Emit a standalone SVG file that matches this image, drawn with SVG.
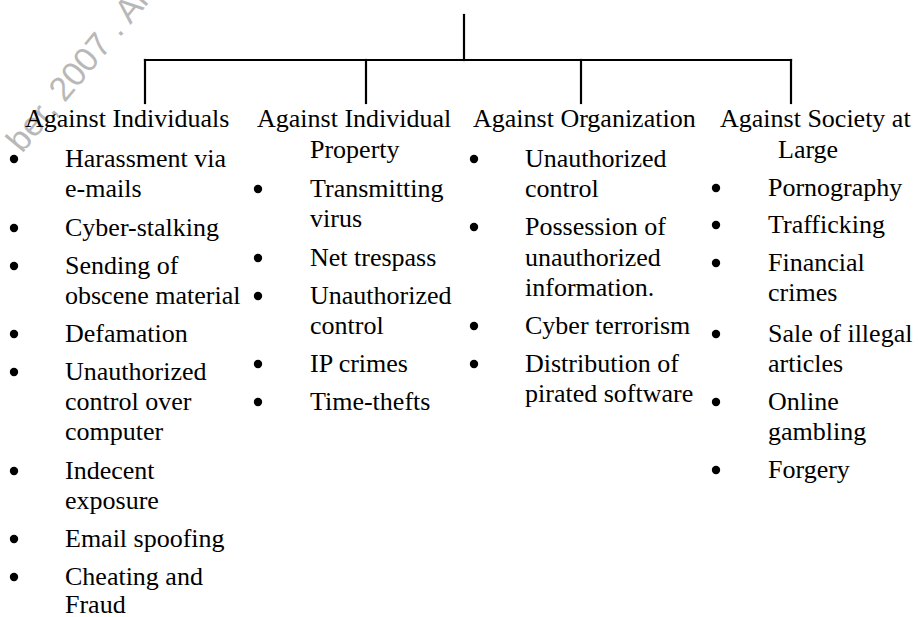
<svg xmlns="http://www.w3.org/2000/svg" width="918" height="617" viewBox="0 0 918 617">
  <style>
    .t { font-family: "Liberation Serif", "Times New Roman", serif; font-size: 26px; fill: #000; }
    .b { fill: #000; }
    .wire { stroke: #000; stroke-width: 2.2; fill: none; stroke-linecap: square; }
    .wm { font-family: "Liberation Sans", Arial, sans-serif; font-size: 34px; fill: #b8b8b8; }
  </style>
  <rect width="918" height="617" fill="#fff"/>

  <!-- faint rotated watermark -->
  <text class="wm" transform="translate(22,154) rotate(-50)">ber, 2007 . All</text>

  <!-- tree connectors -->
  <g id="connectors">
    <path class="wire" d="M464 15 V60"/>
    <path class="wire" d="M145 60 H791"/>
    <path class="wire" d="M145 60 V103"/>
    <path class="wire" d="M366 60 V103"/>
    <path class="wire" d="M581 60 V103"/>
    <path class="wire" d="M791 60 V103"/>
  </g>

  <!-- column 1 -->
  <g id="individuals">
    <text class="t" x="25" y="127">Against Individuals</text>
    <circle class="b" cx="14" cy="159" r="4.2"/>
    <text class="t" x="65" y="167">Harassment via</text>
    <text class="t" x="65" y="197">e-mails</text>
    <circle class="b" cx="14" cy="228" r="4.2"/>
    <text class="t" x="65" y="236">Cyber-stalking</text>
    <circle class="b" cx="14" cy="266" r="4.2"/>
    <text class="t" x="65" y="274">Sending of</text>
    <text class="t" x="65" y="304">obscene material</text>
    <circle class="b" cx="14" cy="334" r="4.2"/>
    <text class="t" x="65" y="342">Defamation</text>
    <circle class="b" cx="14" cy="372" r="4.2"/>
    <text class="t" x="65" y="380">Unauthorized</text>
    <text class="t" x="65" y="410">control over</text>
    <text class="t" x="65" y="440">computer</text>
    <circle class="b" cx="14" cy="471" r="4.2"/>
    <text class="t" x="65" y="479">Indecent</text>
    <text class="t" x="65" y="509">exposure</text>
    <circle class="b" cx="14" cy="539" r="4.2"/>
    <text class="t" x="65" y="547">Email spoofing</text>
    <circle class="b" cx="14" cy="577" r="4.2"/>
    <text class="t" x="65" y="585">Cheating and</text>
    <text class="t" x="65" y="613">Fraud</text>
  </g>

  <!-- column 2 -->
  <g id="individual-property">
    <text class="t" x="257" y="127">Against Individual</text>
    <text class="t" x="310" y="158">Property</text>
    <circle class="b" cx="258" cy="189" r="4.2"/>
    <text class="t" x="310" y="197">Transmitting</text>
    <text class="t" x="310" y="227">virus</text>
    <circle class="b" cx="258" cy="258" r="4.2"/>
    <text class="t" x="310" y="266">Net trespass</text>
    <circle class="b" cx="258" cy="296" r="4.2"/>
    <text class="t" x="310" y="304">Unauthorized</text>
    <text class="t" x="310" y="334">control</text>
    <circle class="b" cx="258" cy="364" r="4.2"/>
    <text class="t" x="310" y="372">IP crimes</text>
    <circle class="b" cx="258" cy="402" r="4.2"/>
    <text class="t" x="310" y="410">Time-thefts</text>
  </g>

  <!-- column 3 -->
  <g id="organization">
    <text class="t" x="473" y="127">Against Organization</text>
    <circle class="b" cx="474" cy="159" r="4.2"/>
    <text class="t" x="525" y="167">Unauthorized</text>
    <text class="t" x="525" y="197">control</text>
    <circle class="b" cx="474" cy="227" r="4.2"/>
    <text class="t" x="525" y="235">Possession of</text>
    <text class="t" x="525" y="266">unauthorized</text>
    <text class="t" x="525" y="296">information.</text>
    <circle class="b" cx="474" cy="326" r="4.2"/>
    <text class="t" x="525" y="334">Cyber terrorism</text>
    <circle class="b" cx="474" cy="364" r="4.2"/>
    <text class="t" x="525" y="372">Distribution of</text>
    <text class="t" x="525" y="402">pirated software</text>
  </g>

  <!-- column 4 -->
  <g id="society">
    <text class="t" x="720" y="127">Against Society at</text>
    <text class="t" x="778" y="158">Large</text>
    <circle class="b" cx="716" cy="188" r="4.2"/>
    <text class="t" x="768" y="196">Pornography</text>
    <circle class="b" cx="716" cy="225" r="4.2"/>
    <text class="t" x="768" y="233">Trafficking</text>
    <circle class="b" cx="716" cy="263" r="4.2"/>
    <text class="t" x="768" y="271">Financial</text>
    <text class="t" x="768" y="301">crimes</text>
    <circle class="b" cx="716" cy="334" r="4.2"/>
    <text class="t" x="768" y="342">Sale of illegal</text>
    <text class="t" x="768" y="372">articles</text>
    <circle class="b" cx="716" cy="402" r="4.2"/>
    <text class="t" x="768" y="410">Online</text>
    <text class="t" x="768" y="440">gambling</text>
    <circle class="b" cx="716" cy="470" r="4.2"/>
    <text class="t" x="768" y="478">Forgery</text>
  </g>
</svg>
